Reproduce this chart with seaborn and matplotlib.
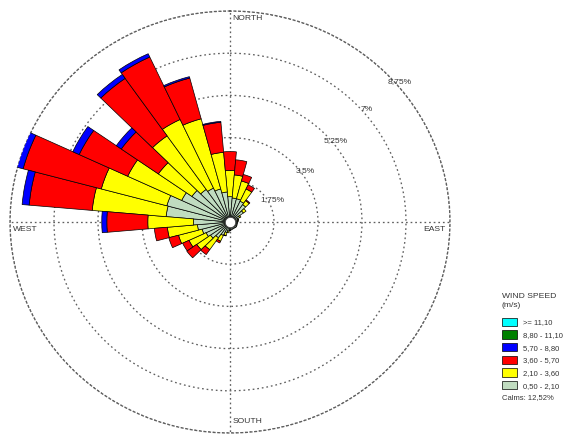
import numpy as np
import matplotlib
matplotlib.use("Agg")
import matplotlib.pyplot as plt
from matplotlib.patches import Rectangle
import seaborn as sns

# Direction sectors (degrees, clockwise from north)
directions = np.arange(0, 360, 10)

# Frequency (%) of each speed class per direction sector
freq_050_210 = [1.05, 1.00, 1.00, 0.95, 0.88, 0.65, 0.42, 0.33, 0.32, 0.31,
                0.30, 0.30, 0.31, 0.32, 0.31, 0.30, 0.31, 0.33, 0.34, 0.38,
                0.45, 0.62, 0.80, 0.95, 1.05, 1.15, 1.30, 1.45, 2.55, 2.60,
                2.12, 1.85, 1.65, 1.55, 1.42, 1.25]
freq_210_360 = [1.09, 0.96, 0.76, 0.56, 0.20, 0.13, 0.06, 0.02, 0.01, 0.00,
                0.00, 0.00, 0.00, 0.00, 0.00, 0.00, 0.00, 0.00, 0.02, 0.07,
                0.13, 0.26, 0.60, 0.67, 0.75, 0.97, 1.20, 1.82, 2.95, 2.70,
                2.37, 1.63, 2.71, 3.14, 3.01, 1.65]
freq_360_570 = [0.78, 0.63, 0.28, 0.19, 0.04, 0.00, 0.00, 0.00, 0.00, 0.00,
                0.00, 0.00, 0.00, 0.00, 0.00, 0.00, 0.00, 0.00, 0.00, 0.00,
                0.02, 0.08, 0.25, 0.48, 0.28, 0.40, 0.52, 1.63, 2.52, 3.22,
                2.13, 1.80, 2.91, 2.86, 1.75, 1.25]
freq_570_880 = [0.00, 0.00, 0.00, 0.00, 0.00, 0.00, 0.00, 0.00, 0.00, 0.00,
                0.00, 0.00, 0.00, 0.00, 0.00, 0.00, 0.00, 0.00, 0.00, 0.00,
                0.00, 0.00, 0.00, 0.00, 0.00, 0.00, 0.00, 0.20, 0.28, 0.35,
                0.28, 0.24, 0.20, 0.15, 0.06, 0.04]
freq_880_1110 = [0.0] * 36
freq_1110_up = [0.0] * 36

speed_labels = ["0,50 - 2,10", "2,10 - 3,60", "3,60 - 5,70",
                "5,70 - 8,80", "8,80 - 11,10", ">= 11,10"]
calms_label = "Calms: 12,52%"

ring_values = [1.75, 3.5, 5.25, 7.0, 8.75]
ring_labels = ["1,75%", "3,5%", "5,25%", "7%", "8,75%"]

sns.set_theme(style="white")
plt.rcParams["font.family"] = ["Liberation Sans", "DejaVu Sans"]

palette = sns.color_palette(["#c0dcc0", "#ffff00", "#ff0000",
                             "#0000ff", "#008000", "#00ffff"])
series = [freq_050_210, freq_210_360, freq_360_570,
          freq_570_880, freq_880_1110, freq_1110_up]

W, H = 565, 435
fig = plt.figure(figsize=(W / 100, H / 100), dpi=100)
fig.patch.set_facecolor("white")

ax = fig.add_axes([10 / W, 1 / H, 440 / W, 422 / H], projection="polar")
ax.set_aspect("auto")
ax.set_facecolor("white")
ax.set_theta_zero_location("N")
ax.set_theta_direction(-1)

theta = np.deg2rad(directions)
width = np.deg2rad(10)
bottom = np.zeros(len(directions))
for vals, col in zip(series, palette):
    vals = np.asarray(vals, dtype=float)
    keep = vals > 0
    if keep.any():
        ax.bar(theta[keep], vals[keep], width=width, bottom=bottom[keep],
               color=col, edgecolor="black", linewidth=0.5, zorder=3)
    bottom += vals

# calm circle at the centre
ax.plot([0], [0], marker="o", ms=7.5, mfc="white", mec="#444444",
        mew=0.6, zorder=6, clip_on=False)

ax.set_ylim(0, ring_values[-1])
ax.set_rgrids(ring_values, labels=[""] * len(ring_values))
ax.set_thetagrids([0, 90, 180, 270], labels=[""] * 4)
grid_color = "#5e5e5e"
grid_dash = (0, (1.3, 2.2))
ax.grid(True, color=grid_color, linestyle=grid_dash, linewidth=0.95)
ax.spines["polar"].set_color(grid_color)
ax.spines["polar"].set_linestyle(grid_dash)
ax.spines["polar"].set_linewidth(0.95)
ax.tick_params(pad=0)

txt_color = "#333333"
fs = 6.1

# ring percentage labels
label_bearings = [60, 54, 51, 49, 49]
for val, lab, brg in zip(ring_values, ring_labels, label_bearings):
    ax.text(np.deg2rad(brg), val + 0.18, lab, ha="center", va="center",
            fontsize=fs, color=txt_color, zorder=4)


def fx(px):
    return px / W


def fy(py):
    return 1 - py / H


fig.text(fx(232), fy(18.5), "NORTH", ha="left", va="center", fontsize=fs, color=txt_color)
fig.text(fx(445), fy(230), "EAST", ha="right", va="center", fontsize=fs, color=txt_color)
fig.text(fx(13), fy(230), "WEST", ha="left", va="center", fontsize=fs, color=txt_color)
fig.text(fx(233), fy(422), "SOUTH", ha="left", va="center", fontsize=fs, color=txt_color)

# legend
fig.text(fx(502), fy(297), "WIND SPEED", ha="left", va="center", fontsize=fs, color=txt_color)
fig.text(fx(502), fy(306), "(m/s)", ha="left", va="center", fontsize=fs, color=txt_color)
leg_top = 318.5
leg_step = 12.7
for i, (lab, col) in enumerate(zip(speed_labels[::-1], list(palette)[::-1])):
    y0 = leg_top + i * leg_step
    fig.patches.append(Rectangle((fx(502), fy(y0 + 8.4)), 15 / W, 8.4 / H,
                                 transform=fig.transFigure, facecolor=col,
                                 edgecolor="black", linewidth=0.5))
    fig.text(fx(523), fy(y0 + 4.2), lab, ha="left", va="center",
             fontsize=5.5, color=txt_color)
fig.text(fx(502), fy(398), calms_label, ha="left", va="center",
         fontsize=5.5, color=txt_color)

fig.savefig("out.png", dpi=100, facecolor="white")
